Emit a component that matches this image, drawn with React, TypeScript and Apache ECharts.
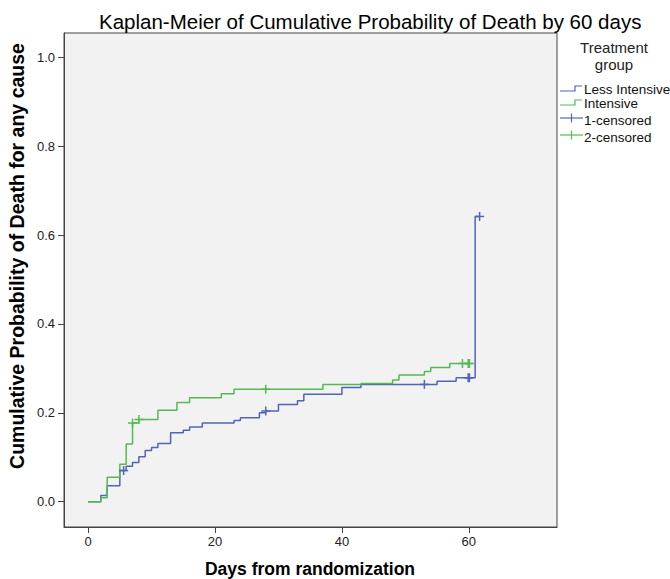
import React, { useEffect, useRef } from "react";
import * as echarts from "echarts";

// Less Intensive (group 1)
const lessDays = [0, 2, 3, 5, 6, 7, 8, 9, 10, 11, 13, 15, 16, 18, 23, 24, 27, 28, 30, 33, 34, 40, 43, 55, 58, 61, 61.7];
const lessProb = [0, 0.014, 0.036, 0.07, 0.08, 0.088, 0.101, 0.115, 0.122, 0.131, 0.155, 0.161, 0.168, 0.177, 0.183, 0.189, 0.2, 0.204, 0.219, 0.227, 0.242, 0.257, 0.264, 0.271, 0.279, 0.642, 0.642];
// Intensive (group 2)
const intDays = [0, 2, 3, 5, 6, 7, 8, 11, 14, 16, 21, 23, 37, 43, 48, 49, 53, 54, 57, 60.2];
const intProb = [0, 0.009, 0.055, 0.084, 0.13, 0.177, 0.185, 0.206, 0.223, 0.234, 0.243, 0.253, 0.264, 0.266, 0.274, 0.285, 0.293, 0.302, 0.311, 0.311];
// censored
const lessCensDays = [5.6, 28, 53, 59.9, 60.1, 61.7];
const lessCensProb = [0.07, 0.204, 0.264, 0.279, 0.279, 0.642];
const intCensDays = [7, 8, 28, 59, 59.9, 60.1];
const intCensProb = [0.177, 0.185, 0.253, 0.311, 0.311, 0.311];

const xTicks = [0, 20, 40, 60];
const yTicks = [0, 0.2, 0.4, 0.6, 0.8, 1.0];

const BLUE = "#5065b9";
const GREEN = "#55b955";
const FONT = "Liberation Sans, Arial, sans-serif";

function zip(a: number[], b: number[]) {
  return a.map((v, i) => [v, b[i]]);
}

function crossSeries(name: string, data: number[][], color: string) {
  return {
    type: "custom",
    name,
    data,
    encode: { x: 0, y: 1 },
    renderItem: (params: any, api: any) => {
      const p = api.coord([api.value(0), api.value(1)]);
      const s = 4.5;
      return {
        type: "group",
        children: [
          { type: "line", shape: { x1: p[0] - s, y1: p[1], x2: p[0] + s, y2: p[1] }, style: { stroke: color, lineWidth: 1.5 } },
          { type: "line", shape: { x1: p[0], y1: p[1] - s, x2: p[0], y2: p[1] + s }, style: { stroke: color, lineWidth: 1.5 } },
        ],
      };
    },
    z: 5,
  };
}

export default function App() {
  const ref = useRef<HTMLDivElement>(null);
  useEffect(() => {
    if (!ref.current) return;
    const chart = echarts.init(ref.current, null, { renderer: "svg" });
    const lx = 560;
    chart.setOption({
      animation: false,
      backgroundColor: "#ffffff",
      title: {
        text: "Kaplan-Meier of Cumulative Probability of Death by 60 days",
        left: 94,
        top: 6,
        textStyle: { fontFamily: FONT, fontSize: 20.5, fontWeight: "normal", color: "#000" },
      },
      grid: {
        left: 64,
        right: 113,
        top: 33,
        bottom: 52,
        show: true,
        backgroundColor: "#f2f2f2",
        borderColor: "#444",
        borderWidth: 1,
        containLabel: false,
        outerBoundsMode: "none",
      },
      xAxis: {
        type: "value",
        min: -3.8,
        max: 73.9,
        axisLine: { show: true, onZero: false, lineStyle: { color: "#444", width: 1 } },
        axisTick: { show: true, customValues: xTicks, length: 6, lineStyle: { color: "#444" } },
        axisLabel: { customValues: xTicks, fontFamily: FONT, fontSize: 13, color: "#222", margin: 8 },
        splitLine: { show: false },
      },
      yAxis: {
        type: "value",
        min: -0.057,
        max: 1.055,
        axisLine: { show: true, onZero: false, lineStyle: { color: "#444", width: 1 } },
        axisTick: { show: true, customValues: yTicks, length: 6, lineStyle: { color: "#444" } },
        axisLabel: {
          customValues: yTicks,
          fontFamily: FONT,
          fontSize: 13,
          color: "#222",
          margin: 9,
          formatter: (v: number) => v.toFixed(1),
        },
        splitLine: { show: false },
      },
      series: [
        {
          type: "line",
          name: "Less Intensive",
          step: "end",
          data: zip(lessDays, lessProb),
          showSymbol: false,
          symbol: "none",
          lineStyle: { color: BLUE, width: 1.5 },
          z: 3,
        },
        {
          type: "line",
          name: "Intensive",
          step: "end",
          data: zip(intDays, intProb),
          showSymbol: false,
          symbol: "none",
          lineStyle: { color: GREEN, width: 1.5 },
          z: 4,
        },
        crossSeries("1-censored", zip(lessCensDays, lessCensProb), BLUE),
        crossSeries("2-censored", zip(intCensDays, intCensProb), GREEN),
      ],
      graphic: [
        {
          type: "text",
          x: 17,
          y: 256,
          rotation: Math.PI / 2,
          style: {
            text: "Cumulative Probability of Death for any cause",
            fontFamily: FONT,
            fontSize: 19.5,
            fontWeight: "bold",
            fill: "#000",
            align: "center",
            verticalAlign: "middle",
          },
        },
        {
          type: "text",
          x: 310,
          y: 569,
          style: {
            text: "Days from randomization",
            fontFamily: FONT,
            fontSize: 17.5,
            fontWeight: "bold",
            fill: "#000",
            align: "center",
            verticalAlign: "middle",
          },
        },
        {
          type: "text",
          x: 614,
          y: 47,
          style: { text: "Treatment", fontFamily: FONT, fontSize: 15, fill: "#222", align: "center", verticalAlign: "middle" },
        },
        {
          type: "text",
          x: 614,
          y: 64,
          style: { text: "group", fontFamily: FONT, fontSize: 15, fill: "#222", align: "center", verticalAlign: "middle" },
        },
        {
          type: "polyline",
          shape: { points: [[lx, 91], [575, 91], [575, 86], [582, 86]] },
          style: { stroke: BLUE, lineWidth: 1.2, fill: "none" },
        },
        {
          type: "text",
          x: 584,
          y: 89,
          style: { text: "Less Intensive", fontFamily: FONT, fontSize: 13.5, fill: "#111", align: "left", verticalAlign: "middle" },
        },
        {
          type: "polyline",
          shape: { points: [[lx, 105], [575, 105], [575, 100], [582, 100]] },
          style: { stroke: GREEN, lineWidth: 1.2, fill: "none" },
        },
        {
          type: "text",
          x: 584,
          y: 103,
          style: { text: "Intensive", fontFamily: FONT, fontSize: 13.5, fill: "#111", align: "left", verticalAlign: "middle" },
        },
        { type: "line", shape: { x1: 560, y1: 118, x2: 583, y2: 118 }, style: { stroke: BLUE, lineWidth: 1.2 } },
        { type: "line", shape: { x1: 571.5, y1: 113.5, x2: 571.5, y2: 122.5 }, style: { stroke: BLUE, lineWidth: 1.2 } },
        {
          type: "text",
          x: 584,
          y: 120,
          style: { text: "1-censored", fontFamily: FONT, fontSize: 13.5, fill: "#111", align: "left", verticalAlign: "middle" },
        },
        { type: "line", shape: { x1: 560, y1: 135, x2: 583, y2: 135 }, style: { stroke: GREEN, lineWidth: 1.2 } },
        { type: "line", shape: { x1: 571.5, y1: 130.5, x2: 571.5, y2: 139.5 }, style: { stroke: GREEN, lineWidth: 1.2 } },
        {
          type: "text",
          x: 584,
          y: 137,
          style: { text: "2-censored", fontFamily: FONT, fontSize: 13.5, fill: "#111", align: "left", verticalAlign: "middle" },
        },
      ],
    });
    return () => chart.dispose();
  }, []);
  return <div ref={ref} style={{ position: "fixed", left: 0, top: 0, width: 670, height: 579 }} />;
}
